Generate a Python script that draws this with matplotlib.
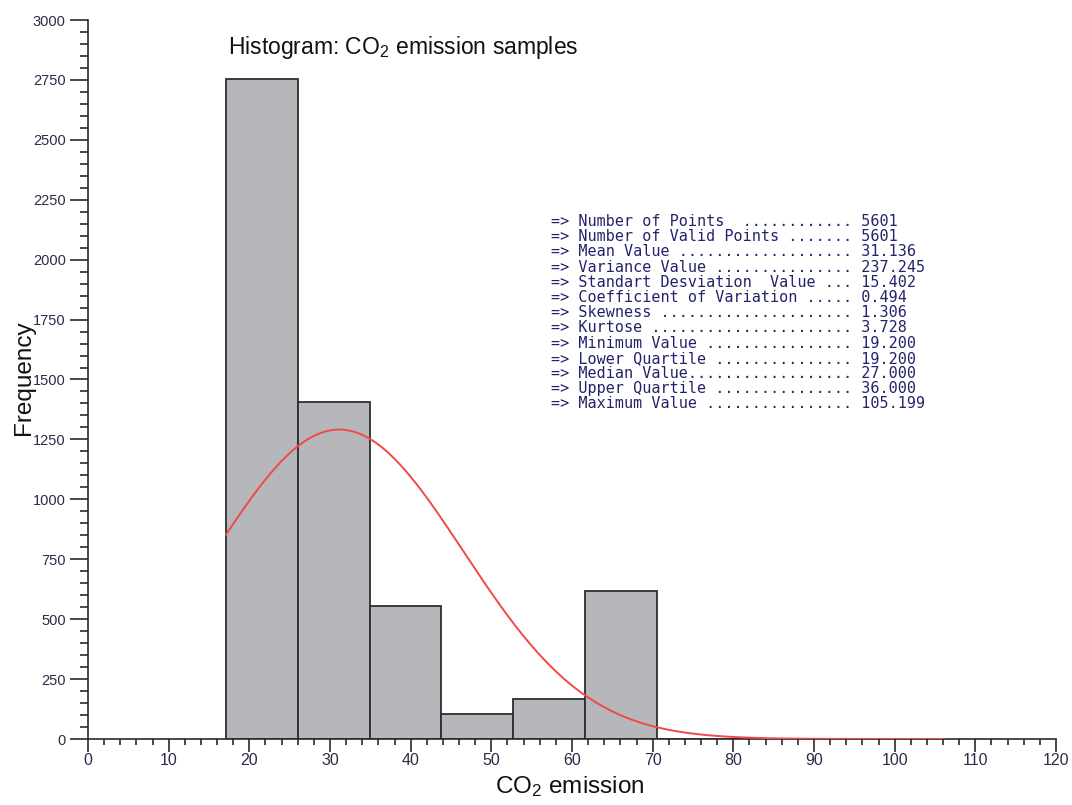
import numpy as np
import matplotlib
matplotlib.use("Agg")
import matplotlib.pyplot as plt
from matplotlib.ticker import MultipleLocator

plt.rcParams['font.family'] = ['Liberation Sans', 'DejaVu Sans']
plt.rcParams['mathtext.fontset'] = 'custom'
plt.rcParams['mathtext.rm'] = 'Liberation Sans'
plt.rcParams['mathtext.it'] = 'Liberation Sans'

# ---- data ----
bin_edges = [17.1, 26.0, 34.9, 43.8, 52.7, 61.6, 70.5, 79.4, 88.3, 97.2, 106.1]
counts = [2754, 1405, 555, 104, 166, 616, 0, 0, 0, 1]
n_points = 5601
mean_value = 31.136
std_value = 15.402

stat_labels = ["Number of Points  ", "Number of Valid Points ", "Mean Value ",
               "Variance Value ", "Standart Desviation  Value ",
               "Coefficient of Variation ", "Skewness ", "Kurtose ",
               "Minimum Value ", "Lower Quartile ", "Median Value",
               "Upper Quartile ", "Maximum Value "]
stat_values = ["5601", "5601", "31.136", "237.245", "15.402", "0.494", "1.306",
               "3.728", "19.200", "19.200", "27.000", "36.000", "105.199"]

x_ticks = [0, 10, 20, 30, 40, 50, 60, 70, 80, 90, 100, 110, 120]
y_ticks = [0, 250, 500, 750, 1000, 1250, 1500, 1750, 2000, 2250, 2500, 2750, 3000]

# ---- figure ----
W, H = 1072, 805
fig = plt.figure(figsize=(W / 100, H / 100), dpi=100)
ax = fig.add_axes([88 / W, 1 - 739 / H, (1056 - 88) / W, (739 - 20) / H])

edges = np.array(bin_edges)
widths = np.diff(edges)
ax.bar(edges[:-1], counts, width=widths, align='edge', color='#b6b7bb',
       edgecolor='#2e2e2e', linewidth=1.3, zorder=2)

# fitted normal curve
bw = widths.mean()
xs = np.linspace(edges[0], edges[-1], 400)
ys = n_points * bw / (std_value * np.sqrt(2 * np.pi)) * np.exp(-0.5 * ((xs - mean_value) / std_value) ** 2)
ax.plot(xs, ys, color='#f24848', linewidth=1.4, zorder=3)

ax.set_xlim(0, 120)
ax.set_ylim(0, 3000)
ax.set_xticks(x_ticks)
ax.set_yticks(y_ticks)
ax.xaxis.set_minor_locator(MultipleLocator(2))
ax.yaxis.set_minor_locator(MultipleLocator(50))

for s in ['top', 'right']:
    ax.spines[s].set_visible(False)
for s in ['left', 'bottom']:
    ax.spines[s].set_linewidth(1.2)
    ax.spines[s].set_color('#2a2a2a')

tick_col = '#2b2b4a'
ax.tick_params(axis='y', which='major', length=13, width=1.2, color='#2a2a2a',
               labelsize=10.5, labelcolor=tick_col, pad=3)
ax.tick_params(axis='y', which='minor', length=6, width=1.2, color='#2a2a2a')
ax.tick_params(axis='x', which='major', length=9, width=1.2, color='#2a2a2a',
               labelsize=11.5, labelcolor=tick_col, pad=1)
ax.tick_params(axis='x', which='minor', length=4, width=1.2, color='#2a2a2a')

ax.set_xlabel('CO$_2$ emission', fontsize=17.5, color='#111111')
ax.xaxis.set_label_coords((570 - 88) / 968, -(787 - 739) / 719, transform=ax.transAxes)
ax.xaxis.label.set_va('center')
ax.set_ylabel('Frequency', fontsize=17.5, color='#111111')
ax.yaxis.set_label_coords(-(88 - 24) / 968, (739 - 378) / 719)
ax.yaxis.label.set_va('center')

fig.text(228 / W, 1 - 54 / H, 'Histogram: CO$_2$ emission samples',
         fontsize=16.5, ha='left', va='baseline', color='#111111')

# stats block
col = 33
for i, (lab, val) in enumerate(zip(stat_labels, stat_values)):
    head = "=> " + lab
    line = head + "." * (col - len(head)) + " " + val
    fig.text(551 / W, 1 - (226 + i * 15.2) / H, line, family='DejaVu Sans Mono',
             fontsize=10.9, ha='left', va='baseline', color='#23236b')

fig.savefig('out.png', dpi=100)
